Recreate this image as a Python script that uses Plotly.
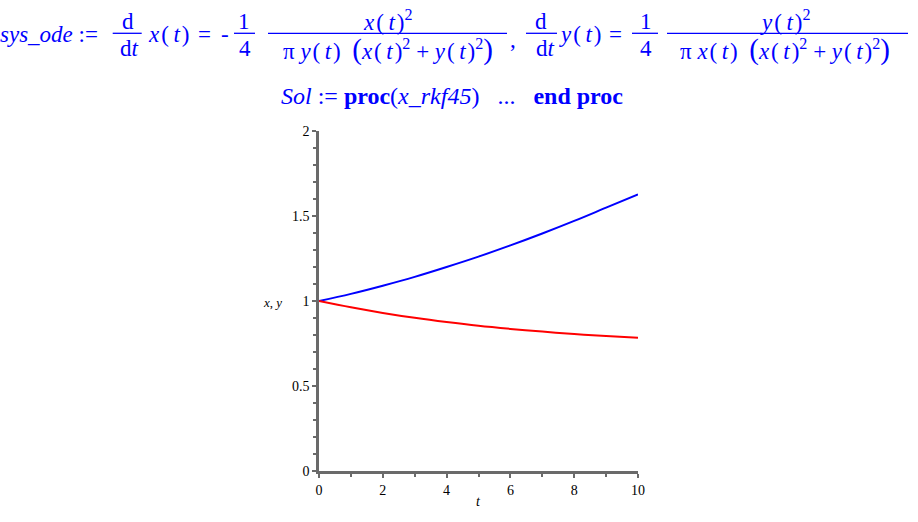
import plotly.graph_objects as go

# ---- data ----
t_vals = [0, 1, 2, 3, 4, 5, 6, 7, 8, 9, 10]
x_vals = [1.0, 0.963, 0.930, 0.901, 0.876, 0.854, 0.836, 0.820, 0.806, 0.794, 0.784]   # red
y_vals = [1.0, 1.042, 1.090, 1.142, 1.200, 1.261, 1.327, 1.397, 1.471, 1.549, 1.627]   # blue
x_ticks = [0, 2, 4, 6, 8, 10]
y_ticks = [0, 0.5, 1, 1.5, 2]
y_ticktext = ["0", "0.5", "1", "1.5", "2"]

W_FIG, H_FIG = 918, 522
L, R, T, B = 319, 280, 131, 51
PW = W_FIG - L - R
PH = H_FIG - T - B

def px(x):
    return (x - L) / PW

def py(y):
    return (H_FIG - B - y) / PH

SERIF = "Times New Roman, Liberation Serif, DejaVu Serif, serif"
BLUE = "#0000FF"
EQ = 23

annotations = []
shapes = []

def txt(text, x, y, size=EQ, color=BLUE, xanchor="center", yanchor="middle"):
    annotations.append(dict(
        text=text, x=px(x), y=py(y), xref="paper", yref="paper",
        showarrow=False, xanchor=xanchor, yanchor=yanchor,
        font=dict(family=SERIF, size=size, color=color)))

def bar(x0, x1, y):
    shapes.append(dict(type="line", xref="paper", yref="paper",
                       x0=px(x0), x1=px(x1), y0=py(y), y1=py(y),
                       line=dict(color=BLUE, width=1.3)))

hs = "\u200a"
ts = "\u2009"
def f(v):
    return f"<i>{v}</i>{hs}({ts}<i>t</i>{hs})"

big_l = '<span style="font-size:29px">(</span>'
big_r = '<span style="font-size:29px">)</span>'

NUM_Y, MID_Y, DEN_Y, BAR_Y = 21, 35, 49, 33.3

# first equation
txt("<i>sys_ode</i> :=", 100, MID_Y, xanchor="right")
txt("d", 127.5, NUM_Y)
bar(112.7, 141.7, BAR_Y)
txt("d<i>t</i>", 129, DEN_Y)
txt(f("x"), 168, MID_Y)
txt("=", 204.5, MID_Y)
txt("-", 225, MID_Y)
txt("1", 244, NUM_Y)
bar(234, 255, BAR_Y)
txt("4", 244.5, DEN_Y)
bar(268, 507, BAR_Y)
txt(f("x") + "<sup>2</sup>", 387, NUM_Y - 1)
txt("\u03c0 " + f("y") + "\u2002" + big_l + f("x") + "<sup>2</sup> + " + f("y") + "<sup>2</sup>" + big_r,
    388, DEN_Y + 1)
txt(",", 513, 39)

# second equation
txt("d", 541, NUM_Y)
bar(526, 557, BAR_Y)
txt("d<i>t</i>", 545, DEN_Y)
txt(f("y"), 580, MID_Y)
txt("=", 615, MID_Y)
txt("1", 646, NUM_Y)
bar(632, 658, BAR_Y)
txt("4", 646, DEN_Y)
bar(667, 908, BAR_Y)
txt(f("y") + "<sup>2</sup>", 785, NUM_Y - 1)
txt("\u03c0 " + f("x") + "\u2002" + big_l + f("x") + "<sup>2</sup> + " + f("y") + "<sup>2</sup>" + big_r,
    784.5, DEN_Y + 1)

# second line
txt("<i>Sol</i> := <b>proc</b>(<i>x_rkf45</i>)\u2002 ...\u2002 <b>end proc</b>", 451.5, 96.5, size=24)

# axis titles
txt("<i>x</i>, <i>y</i>", 272, 302, size=13, color="black")
txt("<i>t</i>", 478, 502, size=14, color="black")

fig = go.Figure()
fig.add_trace(go.Scatter(x=t_vals, y=y_vals, mode="lines", line=dict(color=BLUE, width=2, shape="spline"),
                         showlegend=False, hoverinfo="skip"))
fig.add_trace(go.Scatter(x=t_vals, y=x_vals, mode="lines", line=dict(color="#FF0000", width=2, shape="spline"),
                         showlegend=False, hoverinfo="skip"))

AX = "#6a6a6a"
fig.update_layout(
    width=W_FIG, height=H_FIG, autosize=False,
    margin=dict(l=L, r=R, t=T, b=B, pad=0),
    paper_bgcolor="white", plot_bgcolor="white",
    font=dict(family=SERIF, size=14, color="black"),
    annotations=annotations, shapes=shapes,
    xaxis=dict(range=[0, 10], tickvals=x_ticks, ticktext=[str(v) for v in x_ticks],
               showgrid=False, zeroline=False, showline=True, linecolor=AX, linewidth=2.5,
               ticks="outside", ticklen=4, tickcolor=AX, tickwidth=1.5,
               minor=dict(dtick=1, ticks="outside", ticklen=3, tickcolor=AX, tickwidth=1.5, showgrid=False),
               tickfont=dict(family=SERIF, size=14, color="black"), fixedrange=True),
    yaxis=dict(range=[0, 2], tickvals=y_ticks, ticktext=y_ticktext,
               showgrid=False, zeroline=False, showline=True, linecolor=AX, linewidth=2.5,
               ticks="outside", ticklen=4, tickcolor=AX, tickwidth=1.5,
               minor=dict(dtick=0.1, ticks="outside", ticklen=3, tickcolor=AX, tickwidth=1.5, showgrid=False),
               tickfont=dict(family=SERIF, size=14, color="black"), fixedrange=True),
)

fig.write_html("out.html", config={"displayModeBar": False},
               post_script="document.body.style.margin='0';")
